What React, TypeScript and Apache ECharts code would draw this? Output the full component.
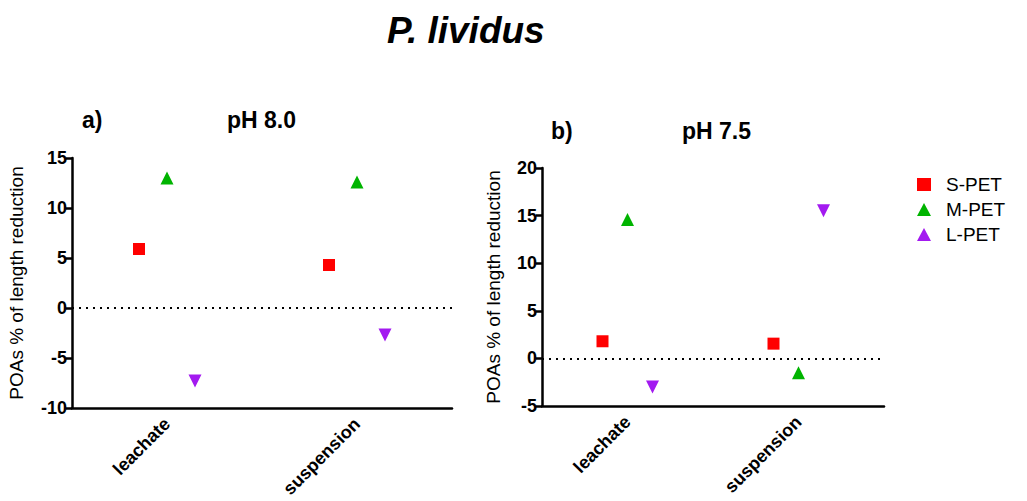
import React, { useEffect, useRef } from "react";
import * as echarts from "echarts";

const categories = ["leachate", "suspension"];
const seriesNames = ["S-PET", "M-PET", "L-PET"];
const phA_S = [5.9, 4.3];
const phA_M = [13.0, 12.6];
const phA_L = [-7.3, -2.7];
const phB_S = [1.8, 1.55];
const phB_M = [14.6, -1.5];
const phB_L = [-3.0, 15.5];
const yTicksA = { min: -10, max: 15, interval: 5 };
const yTicksB = { min: -5, max: 20, interval: 5 };

const colors = ["#ff0000", "#00b400", "#a31af0"];
const symbols = ["rect", "triangle", "triangle"];
const rotations = [0, 0, 180];
const sizes = [12, 13, 13];
const FONT = "'Liberation Sans', Arial, sans-serif";

export default function App() {
  const ref = useRef<HTMLDivElement>(null);
  useEffect(() => {
    document.body.style.margin = "0";
    const chart = echarts.init(ref.current!, null, { renderer: "svg" });

    const mkAxes = (gi: number, t: any, nameGap: number) => ({
      x: {
        type: "category",
        gridIndex: gi,
        data: categories,
        axisLine: { onZero: false, lineStyle: { color: "#000", width: 2.5 } },
        axisTick: { alignWithLabel: true, length: 6, lineStyle: { color: "#000", width: 2.5 } },
        axisLabel: { rotate: 45, color: "#000", fontWeight: "bold", fontSize: 18, fontFamily: FONT, margin: 13 },
        splitLine: { show: false },
      },
      y: {
        type: "value",
        gridIndex: gi,
        min: t.min,
        max: t.max,
        interval: t.interval,
        name: "POAs % of length reduction",
        nameLocation: "middle",
        nameGap,
        nameTextStyle: { color: "#000", fontSize: 19, fontFamily: FONT },
        axisLine: { show: true, onZero: false, lineStyle: { color: "#000", width: 2.5 } },
        axisTick: { show: true, length: 6, lineStyle: { color: "#000", width: 2.5 } },
        axisLabel: { color: "#000", fontWeight: "bold", fontSize: 18, fontFamily: FONT, margin: 5 },
        splitLine: { show: false },
      },
    });
    const axA = mkAxes(0, yTicksA, 46);
    const axB = mkAxes(1, yTicksB, 39);

    const dataA = [phA_S, phA_M, phA_L];
    const dataB = [phB_S, phB_M, phB_L];
    const offsA = [-28, 0, 28];
    const offsB = [-25, 0, 25];

    const series: any[] = [];
    [dataA, dataB].forEach((set, gi) => {
      set.forEach((vals, i) => {
        series.push({
          type: "scatter",
          name: seriesNames[i],
          xAxisIndex: gi,
          yAxisIndex: gi,
          data: vals,
          symbol: symbols[i],
          symbolRotate: rotations[i],
          symbolSize: sizes[i],
          symbolOffset: [(gi === 0 ? offsA : offsB)[i], 0],
          itemStyle: { color: colors[i], opacity: 1 },
          markLine: i === 0 ? {
            silent: true,
            symbol: "none",
            label: { show: false },
            lineStyle: { color: "#000", type: [2, 5], width: 2, opacity: 1 },
            data: [{ yAxis: 0 }],
          } : undefined,
        });
      });
    });

    chart.setOption({
      animation: false,
      backgroundColor: "#fff",
      grid: [
        { left: 72, right: 575, top: 158, bottom: 93 },
        { left: 542, right: 143, top: 168, bottom: 95 },
      ],
      xAxis: [axA.x, axB.x],
      yAxis: [axA.y, axB.y],
      legend: {
        orient: "vertical",
        left: 912,
        top: 170,
        itemWidth: 14,
        itemHeight: 13,
        itemGap: 6,
        textStyle: { color: "#000", fontSize: 19, fontFamily: FONT, padding: [0, 0, 0, 10] },
        data: seriesNames,
      },
      graphic: [
        { type: "text", left: 387, top: 12, style: { text: "P. lividus", font: `italic bold 37px ${FONT}`, fill: "#000" } },
        { type: "text", left: 82, top: 108, style: { text: "a)", font: `bold 23px ${FONT}`, fill: "#000" } },
        { type: "text", left: 227, top: 108, style: { text: "pH 8.0", font: `bold 23px ${FONT}`, fill: "#000" } },
        { type: "text", left: 551, top: 119, style: { text: "b)", font: `bold 23px ${FONT}`, fill: "#000" } },
        { type: "text", left: 682, top: 119, style: { text: "pH 7.5", font: `bold 23px ${FONT}`, fill: "#000" } },
      ],
      series,
    });
    return () => chart.dispose();
  }, []);
  return <div ref={ref} style={{ width: 1027, height: 501 }} />;
}
